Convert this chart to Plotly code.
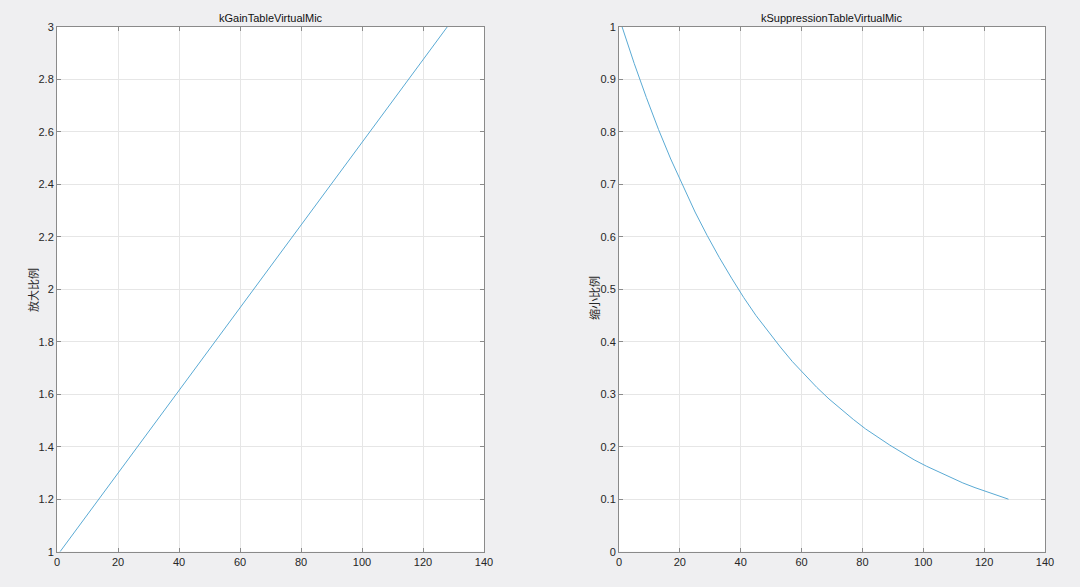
import plotly.graph_objects as go

# ---- data ----
table_index = [1, 5, 9, 13, 17, 21, 25, 29, 33, 37, 41, 45, 49, 53, 57, 61, 65,
               69, 73, 77, 81, 85, 89, 93, 97, 101, 105, 109, 113, 117, 121, 125, 128]
gain_virtual_mic = [1.000, 1.063, 1.126, 1.189, 1.252, 1.315, 1.378, 1.441, 1.504,
                    1.567, 1.630, 1.693, 1.756, 1.819, 1.882, 1.945, 2.008, 2.071,
                    2.134, 2.197, 2.260, 2.323, 2.386, 2.449, 2.512, 2.575, 2.638,
                    2.701, 2.764, 2.827, 2.890, 2.953, 3.000]
suppression_virtual_mic = [1.000, 0.930, 0.865, 0.804, 0.748, 0.696, 0.647, 0.602,
                           0.560, 0.521, 0.484, 0.450, 0.419, 0.390, 0.362, 0.337,
                           0.313, 0.291, 0.271, 0.252, 0.234, 0.218, 0.203, 0.189,
                           0.175, 0.163, 0.152, 0.141, 0.131, 0.122, 0.114, 0.106,
                           0.100]

x_tick_vals = [0, 20, 40, 60, 80, 100, 120, 140]
x_tick_text = ["0", "20", "40", "60", "80", "100", "120", "140"]
gain_tick_vals = [1, 1.2, 1.4, 1.6, 1.8, 2, 2.2, 2.4, 2.6, 2.8, 3]
gain_tick_text = ["1", "1.2", "1.4", "1.6", "1.8", "2", "2.2", "2.4", "2.6", "2.8", "3"]
supp_tick_vals = [0, 0.1, 0.2, 0.3, 0.4, 0.5, 0.6, 0.7, 0.8, 0.9, 1]
supp_tick_text = ["0", "0.1", "0.2", "0.3", "0.4", "0.5", "0.6", "0.7", "0.8", "0.9", "1"]

titles = ["kGainTableVirtualMic", "kSuppressionTableVirtualMic"]
y_labels = ["放大比例", "缩小比例"]

# ---- styling ----
W, H = 1080, 587
line_color = "#5aaad4"
axis_color = "#8a8a8a"
grid_color = "#e6e6e6"
text_color = "#262626"
font_family = "Liberation Sans, Arial, sans-serif"
cjk_family = "Noto Sans CJK SC"

left_dom = [57 / W, 484 / W]
right_dom = [619 / W, 1045 / W]
y_dom = [1 - 551.7 / H, 1 - 26.7 / H]

fig = go.Figure()
fig.add_trace(go.Scatter(x=table_index, y=gain_virtual_mic, mode="lines",
                         line=dict(color=line_color, width=1), xaxis="x", yaxis="y",
                         showlegend=False, hoverinfo="skip"))
fig.add_trace(go.Scatter(x=table_index, y=suppression_virtual_mic, mode="lines",
                         line=dict(color=line_color, width=1), xaxis="x2", yaxis="y2",
                         showlegend=False, hoverinfo="skip"))

common = dict(showline=True, linecolor=axis_color, linewidth=1, mirror="ticks",
              ticks="inside", ticklen=4, tickcolor=axis_color, showgrid=True,
              gridcolor=grid_color, gridwidth=1, zeroline=False, automargin=False,
              tickfont=dict(family=font_family, size=11, color=text_color))

fig.update_layout(
    width=W, height=H, autosize=False,
    margin=dict(l=0, r=0, t=0, b=0, pad=0),
    paper_bgcolor="#efeff1",
    plot_bgcolor="#ffffff",
    xaxis=dict(domain=left_dom, range=[0, 140], tickvals=x_tick_vals,
               ticktext=x_tick_text, anchor="y", **common),
    yaxis=dict(domain=y_dom, range=[1, 3], tickvals=gain_tick_vals,
               ticktext=gain_tick_text, anchor="x", **common),
    xaxis2=dict(domain=right_dom, range=[0, 140], tickvals=x_tick_vals,
                ticktext=x_tick_text, anchor="y2", **common),
    yaxis2=dict(domain=y_dom, range=[0, 1], tickvals=supp_tick_vals,
                ticktext=supp_tick_text, anchor="x2", **common),
)

annotations = []
for dom, t in zip([left_dom, right_dom], titles):
    annotations.append(dict(text=t, x=(dom[0] + dom[1]) / 2, y=1 - 18 / H,
                            xref="paper", yref="paper", showarrow=False,
                            xanchor="center", yanchor="middle",
                            font=dict(family=font_family, size=11, color="#111111")))
for xpix, ypix, t in [(33, 290, y_labels[0]), (594, 298, y_labels[1])]:
    annotations.append(dict(text=t, x=xpix / W, y=1 - ypix / H, xref="paper",
                            yref="paper", showarrow=False, textangle=-90,
                            xanchor="center", yanchor="middle",
                            font=dict(family=cjk_family, size=11, color=text_color)))
fig.update_layout(annotations=annotations)

fig.write_html("out.html",
               config={"displayModeBar": False},
               post_script="document.body.style.margin='0';"
                           "document.body.style.overflow='hidden';")
